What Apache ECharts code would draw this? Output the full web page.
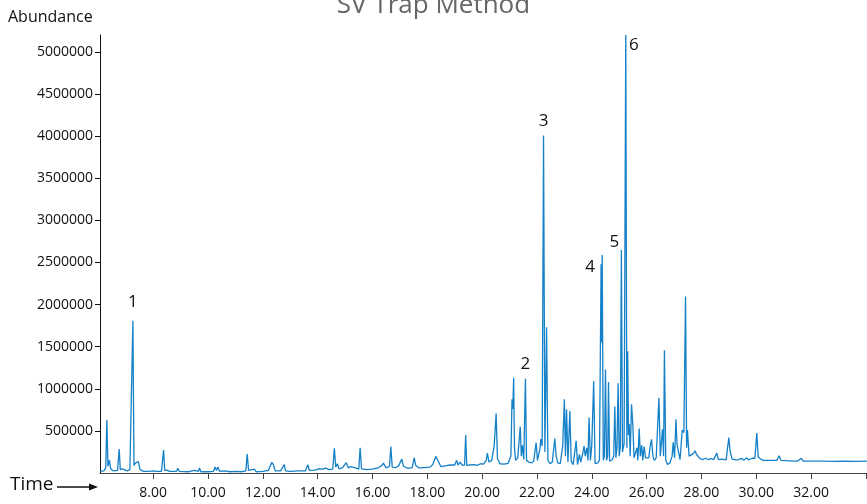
<!DOCTYPE html>
<html>
<head>
<meta charset="utf-8">
<script src="https://cdn.jsdelivr.net/npm/echarts@6/dist/echarts.min.js"></script>
<style>
  html, body { margin: 0; padding: 0; background: #fff; }
  #chart { width: 867px; height: 504px; }
</style>
</head>
<body>
<div id="chart"></div>
<script>
// retention time (min) and abundance
const retentionTime = [
  6.07, 6.20, 6.27, 6.31, 6.35, 6.40, 6.45, 6.55, 6.70, 6.76, 6.80, 6.88, 6.95, 7.05, 7.15, 7.22,
  7.26, 7.30, 7.36, 7.40, 7.46, 7.52, 7.65, 7.85, 8.00, 8.06, 8.12, 8.30, 8.35, 8.38, 8.42, 8.50,
  8.60, 8.85, 8.90, 8.95, 9.30, 9.50, 9.55, 9.65, 9.69, 9.74, 10.00, 10.20, 10.26, 10.31, 10.36, 10.42,
  10.60, 10.80, 11.00, 11.20, 11.38, 11.43, 11.48, 11.55, 11.70, 11.75, 12.00, 12.20, 12.33, 12.39, 12.45, 12.65,
  12.78, 12.83, 13.00, 13.30, 13.55, 13.64, 13.70, 13.90, 14.05, 14.20, 14.30, 14.40, 14.55, 14.61, 14.66, 14.72,
  14.78, 14.90, 15.04, 15.12, 15.20, 15.27, 15.35, 15.50, 15.55, 15.60, 15.80, 16.00, 16.20, 16.35, 16.40, 16.50,
  16.62, 16.67, 16.72, 16.85, 16.95, 17.07, 17.13, 17.20, 17.30, 17.45, 17.52, 17.58, 17.70, 17.90, 18.10, 18.20,
  18.31, 18.40, 18.50, 18.65, 18.72, 18.83, 18.90, 19.00, 19.07, 19.12, 19.20, 19.28, 19.36, 19.40, 19.44, 19.55,
  19.71, 19.80, 19.95, 20.05, 20.15, 20.19, 20.25, 20.35, 20.44, 20.51, 20.56, 20.65, 20.80, 20.95, 21.05, 21.09,
  21.12, 21.15, 21.18, 21.22, 21.30, 21.39, 21.43, 21.47, 21.52, 21.58, 21.62, 21.70, 21.80, 21.88, 21.97, 22.02,
  22.11, 22.14, 22.19, 22.24, 22.29, 22.35, 22.40, 22.48, 22.56, 22.65, 22.70, 22.76, 22.85, 22.94, 23.00, 23.04,
  23.08, 23.13, 23.20, 23.25, 23.32, 23.43, 23.48, 23.55, 23.60, 23.68, 23.72, 23.76, 23.82, 23.86, 23.90, 23.95,
  24.00, 24.07, 24.12, 24.22, 24.28, 24.34, 24.36, 24.38, 24.42, 24.46, 24.50, 24.54, 24.58, 24.61, 24.65, 24.70,
  24.75, 24.80, 24.84, 24.88, 24.92, 24.96, 25.00, 25.04, 25.08, 25.12, 25.18, 25.24, 25.28, 25.31, 25.34, 25.37,
  25.40, 25.45, 25.50, 25.54, 25.60, 25.65, 25.68, 25.73, 25.77, 25.82, 25.86, 25.91, 25.96, 26.02, 26.08, 26.13,
  26.18, 26.23, 26.28, 26.35, 26.42, 26.45, 26.50, 26.58, 26.62, 26.65, 26.70, 26.76, 26.85, 26.93, 26.97, 27.02,
  27.07, 27.11, 27.16, 27.22, 27.30, 27.36, 27.42, 27.46, 27.49, 27.55, 27.62, 27.70, 27.77, 27.82, 27.88, 27.95,
  28.05, 28.15, 28.25, 28.35, 28.45, 28.56, 28.62, 28.75, 28.90, 29.00, 29.05, 29.12, 29.25, 29.35, 29.47, 29.55,
  29.65, 29.72, 29.85, 29.95, 30.02, 30.07, 30.15, 30.25, 30.50, 30.75, 30.84, 30.90, 31.20, 31.50, 31.64, 31.72,
  32.00, 32.40, 32.80, 33.20, 33.60, 34.04
]

const abundance = [
  20000, 25000, 60000, 630000, 80000, 154000, 50000, 25000, 30000, 284000, 40000, 50000, 30000, 25000, 40000, 60000,
  1808000, 90000, 120000, 100000, 135000, 40000, 20000, 20000, 25000, 40000, 20000, 20000, 40000, 272000, 30000, 35000,
  20000, 20000, 55000, 20000, 15000, 30000, 15000, 20000, 60000, 15000, 15000, 20000, 72000, 30000, 70000, 20000,
  25000, 15000, 20000, 15000, 25000, 225000, 30000, 20000, 45000, 15000, 20000, 30000, 126000, 95000, 25000, 25000,
  100000, 25000, 20000, 25000, 25000, 98000, 30000, 35000, 50000, 45000, 60000, 40000, 45000, 292000, 70000, 110000,
  50000, 60000, 123000, 60000, 75000, 60000, 65000, 45000, 300000, 50000, 40000, 45000, 60000, 90000, 118000, 60000,
  80000, 315000, 70000, 65000, 85000, 165000, 80000, 70000, 55000, 65000, 181000, 90000, 60000, 65000, 70000, 100000,
  197000, 140000, 75000, 85000, 70000, 95000, 75000, 95000, 150000, 95000, 130000, 90000, 95000, 450000, 90000, 95000,
  100000, 90000, 110000, 105000, 150000, 236000, 130000, 150000, 323000, 705000, 170000, 110000, 105000, 115000, 205000, 875000,
  760000, 1131000, 300000, 150000, 180000, 550000, 200000, 330000, 160000, 1119000, 150000, 130000, 120000, 140000, 360000, 150000,
  290000, 402000, 320000, 4007000, 250000, 1730000, 150000, 110000, 130000, 410000, 200000, 120000, 110000, 323000, 875000, 200000,
  757000, 130000, 737000, 140000, 100000, 382000, 100000, 220000, 130000, 250000, 323000, 200000, 300000, 150000, 658000, 150000,
  330000, 1091000, 110000, 120000, 150000, 2479000, 1550000, 2589000, 150000, 200000, 1229000, 150000, 200000, 1080000, 140000, 120000,
  160000, 200000, 788000, 180000, 300000, 1064000, 200000, 300000, 2648000, 250000, 350000, 5200000, 300000, 1446000, 450000, 580000,
  200000, 815000, 560000, 180000, 200000, 300000, 150000, 528000, 200000, 330000, 150000, 315000, 180000, 200000, 180000, 320000,
  400000, 200000, 150000, 180000, 200000, 894000, 200000, 520000, 200000, 1457000, 150000, 100000, 120000, 200000, 363000, 180000,
  638000, 340000, 330000, 160000, 510000, 480000, 2096000, 300000, 510000, 200000, 220000, 230000, 264000, 220000, 230000, 170000,
  160000, 175000, 160000, 170000, 160000, 236000, 160000, 165000, 155000, 422000, 250000, 165000, 155000, 160000, 174000, 150000,
  180000, 155000, 175000, 175000, 473000, 190000, 170000, 150000, 150000, 150000, 205000, 150000, 145000, 140000, 174000, 140000,
  140000, 142000, 138000, 141000, 139000, 140000
]

// numbered peaks
const peakNames = ['1', '2', '3', '4', '5', '6']
const peakTimes = [7.26, 21.58, 22.24, 24.34, 25.08, 25.24]
const peakHeights = [1808000, 1119000, 4007000, 2479000, 2648000, 5200000]
const peakLabelOffsets = [[0, -19], [0, -15], [0, -14], [-11, 3], [-7, -8], [8, 10]]

// axis ticks
const timeLabels = [8, 10, 12, 14, 16, 18, 20, 22, 24, 26, 28, 30, 32]
const timeTicks = [8, 10, 12, 14, 16, 18, 20, 22, 24, 26, 28, 30, 32, 34]
const abundanceTicks = [500000, 1000000, 1500000, 2000000, 2500000, 3000000, 3500000, 4000000, 4500000, 5000000]

const font = 'Open Sans'
const chart = echarts.init(document.getElementById('chart'))

chart.setOption({
  animation: false,
  title: {
    text: 'SV Trap Method',
    left: 'center',
    top: -12,
    textStyle: { fontFamily: font, fontSize: 26, fontWeight: 'normal', color: '#666' },
  },
  grid: { left: 100, right: 0, top: 35, bottom: 31 },
  xAxis: {
    type: 'value',
    min: 6.06,
    max: 34.04,
    axisLine: { show: true, lineStyle: { color: '#444', width: 1 } },
    axisTick: { show: true, length: 6, customValues: timeTicks, lineStyle: { color: '#444' } },
    axisLabel: {
      customValues: timeLabels,
      formatter: v => v.toFixed(2),
      fontFamily: font, fontSize: 14, color: '#111', margin: 13,
    },
    splitLine: { show: false },
  },
  yAxis: {
    type: 'value',
    min: 0,
    max: 5200000,
    axisLine: { show: true, lineStyle: { color: '#111', width: 1 } },
    axisTick: { show: true, length: 5, customValues: abundanceTicks, lineStyle: { color: '#111' } },
    axisLabel: {
      customValues: abundanceTicks,
      formatter: v => String(v),
      fontFamily: font, fontSize: 14, color: '#111', margin: 7,
    },
    splitLine: { show: false },
  },
  graphic: [
    {
      type: 'text', left: 8, top: 9,
      style: { text: 'Abundance', fontFamily: font, fontSize: 16, fill: '#111' },
    },
    {
      type: 'text', left: 10, top: 475,
      style: { text: 'Time', fontFamily: font, fontSize: 19, fill: '#111' },
    },
    {
      type: 'line',
      shape: { x1: 57, y1: 487, x2: 92, y2: 487 },
      style: { stroke: '#111', lineWidth: 1.5 },
    },
    {
      type: 'polygon',
      shape: { points: [[98, 487], [89, 483.5], [89, 490.5]] },
      style: { fill: '#111' },
    },
  ],
  series: [
    {
      type: 'line',
      data: retentionTime.map((t, i) => [t, abundance[i]]),
      showSymbol: false,
      symbol: 'none',
      lineStyle: { color: '#1581c9', width: 1.3 },
      clip: true,
      markPoint: {
        symbol: 'circle',
        symbolSize: 1,
        itemStyle: { color: 'rgba(0,0,0,0)' },
        label: {
          show: true,
          position: 'inside',
          formatter: '{b}',
          fontFamily: font,
          fontSize: 17,
          color: '#111',
        },
        data: peakNames.map((name, i) => ({
          name,
          coord: [peakTimes[i], peakHeights[i]],
          label: { offset: peakLabelOffsets[i] },
        })),
      },
    },
  ],
})
</script>
</body>
</html>
